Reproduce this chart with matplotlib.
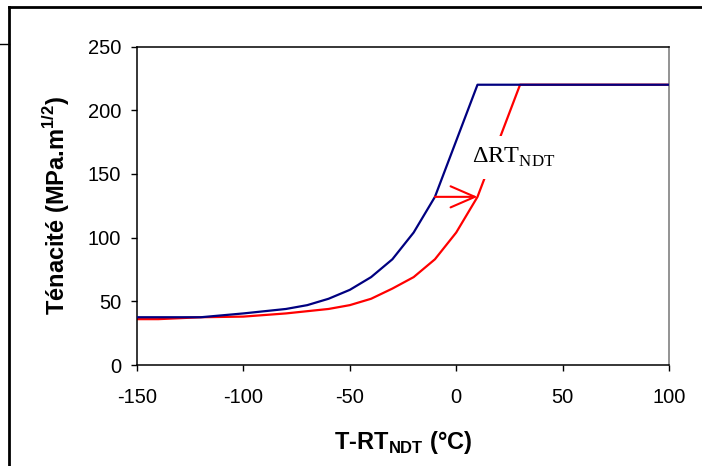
import matplotlib.pyplot as plt
from matplotlib.lines import Line2D

plt.rcParams['font.family'] = ['Liberation Sans', 'DejaVu Sans']
plt.rcParams['mathtext.fontset'] = 'custom'
plt.rcParams['mathtext.rm'] = 'Liberation Serif'
plt.rcParams['mathtext.bf'] = 'Liberation Sans:bold'
plt.rcParams['axes.unicode_minus'] = False

# toughness curve before and after the RT_NDT shift
temp_ref = [-150, -140, -120, -100, -80, -70, -60, -50, -40, -30, -20, -10, 0, 10, 100]
k_ref = [37.5, 37.5, 37.5, 40.5, 44, 47, 52, 59, 69, 83, 104, 132, 176, 220, 220]
temp_shift = [-150, -140, -120, -100, -80, -60, -50, -40, -30, -20, -10, 0, 10, 20, 30, 100]
k_shift = [36, 36, 37.5, 38, 40.5, 44, 47, 52, 60, 69, 83, 104, 132, 176, 220, 220]

# horizontal arrow showing the shift at constant toughness
arrow_k = 132
arrow_from = -10
arrow_to = 10

fig = plt.figure(figsize=(7.02, 4.66), dpi=100)
ax = fig.add_axes([0.1952, 0.2167, 0.7578, 0.6835])

ax.plot(temp_shift, k_shift, color='#ff0000', lw=1.6, zorder=2)
ax.plot(temp_ref, k_ref, color='#000080', lw=1.6, zorder=3)

ax.text(7.5, 158.5, r'ΔRT$_{\mathrm{NDT}}$', family='Liberation Serif', fontsize=17.5,
        ha='left', va='baseline', zorder=2.5,
        bbox=dict(boxstyle='square,pad=0.4', fc='white', ec='none'))
ax.annotate('', xy=(arrow_to, arrow_k), xytext=(arrow_from, arrow_k), zorder=5,
            arrowprops=dict(arrowstyle='->,head_length=1.75,head_width=0.76',
                            mutation_scale=10, color='#ff0000', lw=1.5,
                            shrinkA=0, shrinkB=0))

ax.set_xlim(-150, 100)
ax.set_ylim(0, 250)
ax.set_xticks(range(-150, 101, 50))
ax.set_yticks(range(0, 251, 50))
ax.tick_params(axis='both', direction='out', length=4.5, width=1, labelsize=14.5)
ax.tick_params(axis='x', pad=12)
ax.tick_params(axis='y', pad=7)
for side in ['left', 'bottom', 'top']:
    ax.spines[side].set_linewidth(1.1)
ax.spines['right'].set_color('#808080')
ax.spines['right'].set_linewidth(1.2)

ax.set_ylabel(r'Ténacité (MPa.m$^{\mathbf{1/2}}$)', fontsize=17, fontweight='bold')
ax.yaxis.set_label_coords(-0.122, 0.5)
ax.set_xlabel(r'T-RT$_{\mathbf{NDT}}$ (°C)', fontsize=17, fontweight='bold')
ax.xaxis.set_label_coords(0.5, -0.2)

# page frame around the figure
fig.add_artist(Line2D([0.0135, 1.0], [0.985, 0.985], color='black', lw=2, transform=fig.transFigure))
fig.add_artist(Line2D([0.0135, 0.0135], [0.0, 0.985], color='black', lw=2, transform=fig.transFigure))
fig.add_artist(Line2D([0.0, 0.0135], [0.905, 0.905], color='black', lw=1, transform=fig.transFigure))

fig.savefig('out.png', dpi=100)
